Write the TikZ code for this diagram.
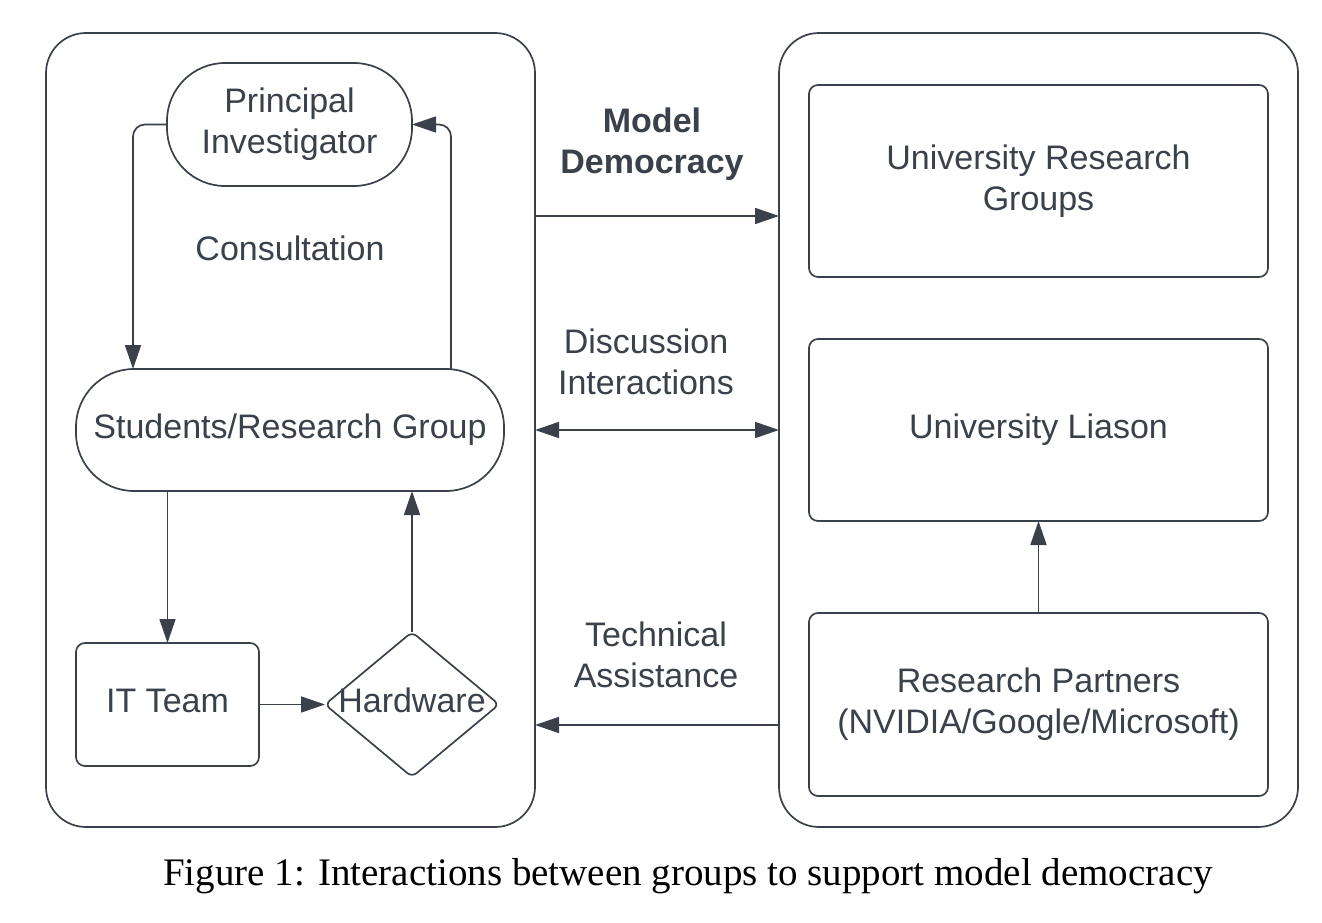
\documentclass[tikz,border=0pt]{standalone}
\usepackage{fontspec}
\setmainfont{Liberation Sans}
\newfontfamily\capfont{Liberation Serif}
\usetikzlibrary{arrows.meta,shapes.geometric}
\definecolor{ink}{RGB}{58,65,74}

\begin{document}
\begin{tikzpicture}[x=1pt,y=1pt,yscale=-1,xscale=1,
  every node/.style={font=\fontsize{34}{41}\selectfont, text=ink},
  >={Triangle[length=24pt,width=16pt]},
  lnk/.style={draw=ink, line width=1.7pt},
  panel/.style={draw=ink, line width=1.7pt, rounded corners=40pt, outer sep=0pt},
  box/.style={draw=ink, line width=1.7pt, rounded corners=9pt, align=center, outer sep=0pt},
  pill/.style={draw=ink, line width=1.7pt, rounded corners=58pt, align=center, outer sep=0pt}]
\useasboundingbox (0,0) rectangle (1322,923);

%Shape: Rounded Rect [left panel]
\node[panel, minimum width=489pt, minimum height=794pt] (lp) at (290.5,430) {};
%Shape: Rounded Rect [right panel]
\node[panel, minimum width=519pt, minimum height=794pt] (rp) at (1038.5,430) {};

%Shape: Terminator
\node[pill, minimum width=245pt, minimum height=123pt] (pi) at (289.5,124.5) {Principal\\Investigator};
%Shape: Terminator
\node[pill, minimum width=428pt, minimum height=122pt] (stu) at (290,430) {Students/Research Group};
%Shape: Rectangle
\node[box, minimum width=183pt, minimum height=123pt] (it) at (167.5,704.5) {\raisebox{4pt}[\height][\depth]{IT Team}};
%Shape: Diamond
\node[diamond, draw=ink, line width=1.7pt, rounded corners=6pt, outer sep=0pt, inner sep=0pt,
  minimum width=174pt, minimum height=145pt] (hw) at (412,704.5) {\makebox[0pt]{\raisebox{4pt}[\height][\depth]{Hardware}}};

%Shape: Rectangle
\node[box, minimum width=459pt, minimum height=192pt] (urg) at (1038.5,181) {University Research\\Groups};
%Shape: Rectangle
\node[box, minimum width=459pt, minimum height=182pt] (ul) at (1038.5,430) {University Liason};
%Shape: Rectangle
\node[box, minimum width=459pt, minimum height=183pt] (rpt) at (1038.5,704.5) {Research Partners\\(NVIDIA/Google/Microsoft)};

% Text Node
\node (cons) at (290,248) {Consultation};
% Text Node
\node[align=center, font=\fontsize{34}{41}\selectfont\bfseries] (md) at (652,144) {Model\\Democracy};
% Text Node
\node[align=center] (di) at (646,362) {Discussion\\Interactions};
% Text Node
\node[align=center] (ta) at (656,655) {Technical\\Assistance};
% Text Node
\node[font=\capfont\fontsize{39}{47}\selectfont, text=black] (cap) at (688,876) {Figure 1: Interactions between groups to support model democracy};

\coordinate (dn) at (133,0);
\coordinate (up) at (451,0);
\coordinate (mdy) at (0,216);
\coordinate (tay) at (0,725);

%Straight Lines
\draw[lnk, ->, rounded corners=12pt] (pi.west) -| (stu.north -| dn);
\draw[lnk, ->, rounded corners=12pt] (stu.north -| up) |- (pi.east);
\draw[lnk, ->] (stu.south -| it.north) -- (it.north);
\draw[lnk, ->] (it.east) -- (hw.west);
\draw[lnk, ->] (hw.north) -- (hw.north |- stu.south);
\draw[lnk, ->] (lp.east |- mdy) -- (rp.west |- mdy);
\draw[lnk, <->] (lp.east) -- (rp.west);
\draw[lnk, ->] (rp.west |- tay) -- (lp.east |- tay);
\draw[lnk, ->] (rpt.north) -- (ul.south);

\end{tikzpicture}
\end{document}
